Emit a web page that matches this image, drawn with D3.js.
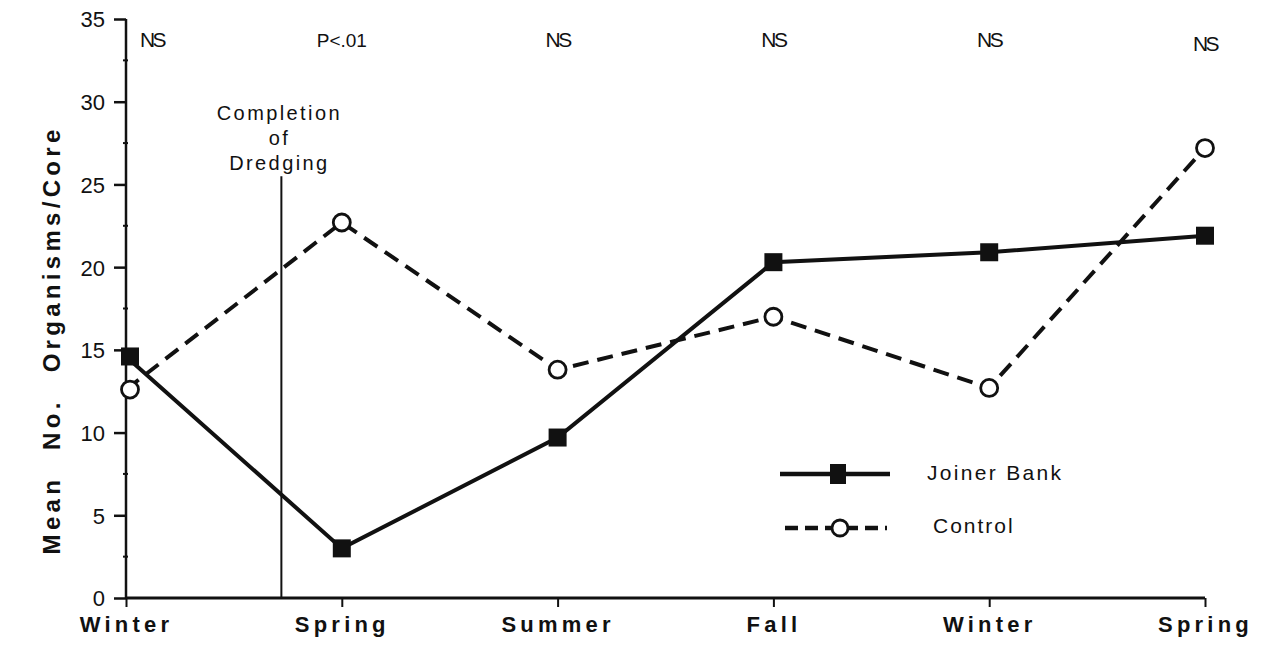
<!DOCTYPE html>
<html>
<head>
<meta charset="utf-8">
<script src="https://cdn.jsdelivr.net/npm/d3@7"></script>
<style>
  body { margin: 0; background: #fff }
  text { font-family: "Liberation Sans", Arial, sans-serif; fill: #111 }
</style>
</head>
<body>
<svg id="chart" width="1265" height="650"></svg>
<script>
var seasons = ["Winter", "Spring", "Summer", "Fall", "Winter", "Spring"]
var joiner = [14.6, 3.0, 9.7, 20.3, 20.9, 21.9]
var control = [12.6, 22.7, 13.8, 17.0, 12.7, 27.2]
var signif = ["NS", "P<.01", "NS", "NS", "NS", "NS"]
var yTicks = [0, 5, 10, 15, 20, 25, 30, 35]
var dredgeAt = 0.72   // position between first two seasons (index units)

var svg = d3.select("#chart")

var x = d3.scaleLinear().domain([0, seasons.length - 1]).range([126, 1205])
var y = d3.scaleLinear().domain([0, 35]).range([598, 19])

// y axis
var yAxis = d3.axisLeft(y).tickValues(yTicks).tickSize(12).tickPadding(9).tickFormat(d3.format("d"))
var ya = svg.append("g").attr("transform", "translate(" + x(0) + ",0)").call(yAxis)
ya.select(".domain").attr("d", "M0," + y(35) + "V" + y(0)).attr("stroke", "#111").attr("stroke-width", 2.5).attr("fill", "none")
ya.selectAll(".tick line").attr("stroke", "#111").attr("stroke-width", 2.5)
ya.selectAll(".tick text").attr("font-size", 22).attr("fill", "#111").attr("dy", "0.36em")
  .style("font-family", "'Liberation Sans', Arial, sans-serif")

// minor ticks
svg.append("g").selectAll("line")
  .data(d3.range(2.5, 35, 5))
  .join("line")
  .attr("x1", x(0) - 3).attr("x2", x(0) + 2)
  .attr("y1", function(d) { return y(d) }).attr("y2", function(d) { return y(d) })
  .attr("stroke", "#111").attr("stroke-width", 2)

// x axis
var xAxis = d3.axisBottom(x).tickValues(d3.range(seasons.length)).tickSize(9).tickPadding(9)
  .tickFormat(function(i) { return seasons[i] })
var xa = svg.append("g").attr("transform", "translate(0," + y(0) + ")").call(xAxis)
xa.select(".domain").attr("d", "M" + x(0) + ",0H" + x(seasons.length - 1)).attr("stroke", "#111").attr("stroke-width", 3)
xa.selectAll(".tick line").attr("stroke", "#111").attr("stroke-width", 2)
xa.selectAll(".tick text").attr("font-size", 22).attr("font-weight", "bold")
  .attr("letter-spacing", 4.2).attr("fill", "#111")
  .style("font-family", "'Liberation Sans', Arial, sans-serif")

// y title
svg.append("text")
  .attr("transform", "translate(60," + y(15.6) + ") rotate(-90)")
  .attr("text-anchor", "middle")
  .attr("font-size", 24).attr("font-weight", "bold").attr("letter-spacing", 4.3)
  .attr("word-spacing", 15)
  .text("Mean No. Organisms/Core")

// significance labels
svg.append("g").selectAll("text")
  .data(signif)
  .join("text")
  .attr("x", function(d, i) { return i == 0 ? x(i) + 26 : x(i) })
  .attr("y", function(d, i) { return i == 5 ? 51 : 47 })
  .attr("text-anchor", "middle")
  .attr("font-size", function(d) { return d == "NS" ? 21 : 19 })
  .attr("letter-spacing", function(d) { return d == "NS" ? -2.5 : 0 })
  .text(function(d) { return d })

// dredging marker
svg.append("line")
  .attr("x1", x(dredgeAt)).attr("x2", x(dredgeAt))
  .attr("y1", y(25.5)).attr("y2", y(0))
  .attr("stroke", "#111").attr("stroke-width", 2)
svg.append("g").selectAll("text")
  .data(["Completion", "of", "Dredging"])
  .join("text")
  .attr("x", x(dredgeAt) - 2)
  .attr("y", function(d, i) { return 120 + i * 25 })
  .attr("text-anchor", "middle")
  .attr("font-size", 20).attr("letter-spacing", 2.4)
  .text(function(d) { return d })

var line = d3.line().x(function(d, i) { return x(i) }).y(function(d) { return y(d) })

svg.append("path").datum(control).attr("d", line)
  .attr("fill", "none").attr("stroke", "#111").attr("stroke-width", 4)
  .attr("stroke-dasharray", "16,9")
svg.append("path").datum(joiner).attr("d", line)
  .attr("fill", "none").attr("stroke", "#111").attr("stroke-width", 4)

svg.append("g").selectAll("circle")
  .data(control)
  .join("circle")
  .attr("cx", function(d, i) { return x(i) + (i == 0 ? 4 : 0) })
  .attr("cy", function(d) { return y(d) })
  .attr("r", 8.5)
  .attr("fill", "#fff").attr("stroke", "#111").attr("stroke-width", 2.8)

svg.append("g").selectAll("rect")
  .data(joiner)
  .join("rect")
  .attr("x", function(d, i) { return x(i) - 9 + (i == 0 ? 4 : 0) })
  .attr("y", function(d) { return y(d) - 9 })
  .attr("width", 18).attr("height", 18)
  .attr("fill", "#111")

// legend
var lg = svg.append("g").attr("transform", "translate(780,474)")
lg.append("line").attr("x1", 0).attr("x2", 110).attr("stroke", "#111").attr("stroke-width", 4.5)
lg.append("rect").attr("x", 50).attr("y", -10).attr("width", 16).attr("height", 20).attr("fill", "#111")
lg.append("text").attr("x", 147).attr("y", 6).attr("font-size", 21).attr("letter-spacing", 2.3).text("Joiner Bank")
var lc = svg.append("g").attr("transform", "translate(785,528)")
lc.append("line").attr("x1", 0).attr("x2", 102).attr("stroke", "#111").attr("stroke-width", 4.5)
  .attr("stroke-dasharray", "13,7")
lc.append("circle").attr("cx", 55).attr("cy", 0).attr("r", 8).attr("fill", "#fff")
  .attr("stroke", "#111").attr("stroke-width", 2.8)
lc.append("text").attr("x", 148).attr("y", 5).attr("font-size", 21).attr("letter-spacing", 2).text("Control")
</script>
</body>
</html>
